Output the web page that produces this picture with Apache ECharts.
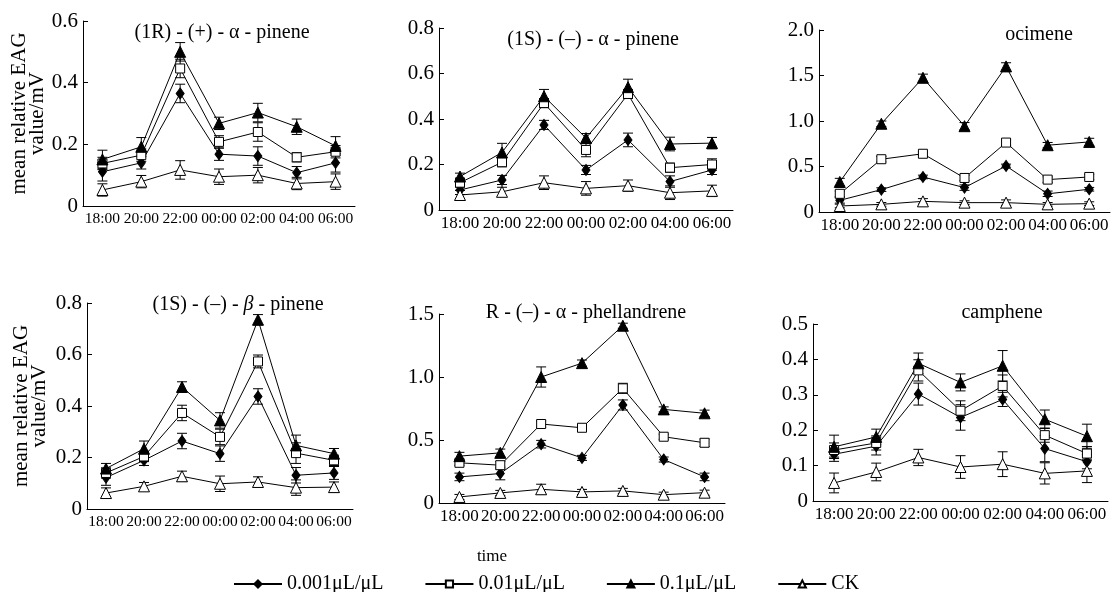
<!DOCTYPE html>
<html>
<head>
<meta charset="utf-8">
<script src="https://cdn.jsdelivr.net/npm/echarts@6/dist/echarts.min.js"></script>
<style>
  html, body { margin: 0; padding: 0; background: #fff; }
  #chart { width: 1112px; height: 592px; }
</style>
</head>
<body>
<div id="chart"></div>
<script>
const times = ['18:00', '20:00', '22:00', '00:00', '02:00', '04:00', '06:00'];
const doses = ['0.001μL/μL', '0.01μL/μL', '0.1μL/μL', 'CK'];

// means per dose (0.001, 0.01, 0.1, CK), then the error bar half-widths
const pinene1R = [
  [0.111, 0.140, 0.365, 0.168, 0.162, 0.108, 0.140],
  [0.138, 0.165, 0.446, 0.208, 0.240, 0.158, 0.176],
  [0.151, 0.192, 0.500, 0.268, 0.303, 0.257, 0.195],
  [0.052, 0.079, 0.117, 0.095, 0.100, 0.073, 0.079]
];
const pinene1R_err = [
  [0.03, 0.02, 0.03, 0.02, 0.03, 0.02, 0.03],
  [0.02, 0.02, 0.03, 0.02, 0.03, 0.015, 0.02],
  [0.03, 0.03, 0.03, 0.02, 0.03, 0.025, 0.03],
  [0.02, 0.02, 0.03, 0.025, 0.025, 0.02, 0.025]
];

const pinene1S = [
  [0.088, 0.132, 0.374, 0.176, 0.308, 0.125, 0.176],
  [0.120, 0.210, 0.470, 0.264, 0.510, 0.186, 0.200],
  [0.147, 0.253, 0.500, 0.316, 0.540, 0.290, 0.294],
  [0.066, 0.080, 0.120, 0.095, 0.107, 0.076, 0.084]
];
const pinene1S_err = [
  [0.02, 0.02, 0.02, 0.02, 0.03, 0.025, 0.02],
  [0.02, 0.02, 0.02, 0.03, 0.02, 0.02, 0.025],
  [0.015, 0.04, 0.03, 0.02, 0.035, 0.03, 0.025],
  [0.02, 0.02, 0.03, 0.03, 0.025, 0.03, 0.025]
];

const ocimene = [
  [0.128, 0.246, 0.385, 0.268, 0.506, 0.200, 0.250],
  [0.200, 0.580, 0.640, 0.374, 0.763, 0.356, 0.385],
  [0.330, 0.970, 1.475, 0.943, 1.600, 0.734, 0.770],
  [0.066, 0.084, 0.117, 0.103, 0.103, 0.084, 0.092]
];
const ocimene_err = [
  [0.03, 0.02, 0.02, 0.03, 0.02, 0.03, 0.02],
  [0.03, 0.03, 0.02, 0.03, 0.03, 0.03, 0.03],
  [0.04, 0.03, 0.04, 0.04, 0.04, 0.03, 0.04],
  [0.02, 0.02, 0.03, 0.02, 0.03, 0.02, 0.02]
];

const betaPinene = [
  [0.122, 0.189, 0.264, 0.215, 0.437, 0.131, 0.140],
  [0.140, 0.204, 0.373, 0.280, 0.573, 0.217, 0.189],
  [0.157, 0.234, 0.474, 0.344, 0.735, 0.247, 0.215],
  [0.062, 0.088, 0.127, 0.098, 0.105, 0.083, 0.085]
];
const betaPinene_err = [
  [0.03, 0.02, 0.03, 0.03, 0.03, 0.03, 0.025],
  [0.02, 0.02, 0.03, 0.03, 0.025, 0.04, 0.02],
  [0.02, 0.03, 0.02, 0.03, 0.02, 0.04, 0.02],
  [0.02, 0.015, 0.02, 0.03, 0.02, 0.03, 0.02]
];

const phellandrene = [
  [0.207, 0.234, 0.467, 0.358, 0.778, 0.345, 0.207],
  [0.319, 0.300, 0.627, 0.597, 0.910, 0.526, 0.478],
  [0.372, 0.398, 1.000, 1.110, 1.407, 0.743, 0.712],
  [0.048, 0.080, 0.109, 0.088, 0.096, 0.066, 0.082]
];
const phellandrene_err = [
  [0.03, 0.05, 0.03, 0.02, 0.04, 0.02, 0.03],
  [0.02, 0.03, 0.025, 0.02, 0.04, 0.02, 0.03],
  [0.03, 0.03, 0.08, 0.025, 0.02, 0.02, 0.025],
  [0.02, 0.02, 0.04, 0.02, 0.02, 0.02, 0.02]
];

const camphene = [
  [0.132, 0.155, 0.302, 0.236, 0.287, 0.148, 0.111],
  [0.144, 0.164, 0.369, 0.255, 0.325, 0.186, 0.134],
  [0.153, 0.181, 0.389, 0.335, 0.382, 0.231, 0.183],
  [0.051, 0.082, 0.123, 0.096, 0.104, 0.078, 0.085]
];
const camphene_err = [
  [0.02, 0.025, 0.031, 0.036, 0.02, 0.037, 0.02],
  [0.02, 0.02, 0.03, 0.028, 0.031, 0.02, 0.02],
  [0.033, 0.022, 0.029, 0.024, 0.043, 0.026, 0.034],
  [0.028, 0.025, 0.023, 0.032, 0.035, 0.03, 0.033]
];

const FONT = '"Liberation Serif", "Times New Roman", serif';

const panels = [
  { data: pinene1R, err: pinene1R_err, max: 0.6, step: 0.2, title: '(1R) - (+) - α - pinene',
    grid: { left: 83, top: 21, width: 272, height: 185 }, tx: 222, ty: 33, yName: true },
  { data: pinene1S, err: pinene1S_err, max: 0.8, step: 0.2, title: '(1S) - (–) - α - pinene',
    grid: { left: 439, top: 28, width: 294, height: 182 }, tx: 593, ty: 40 },
  { data: ocimene, err: ocimene_err, max: 2.0, step: 0.5, title: 'ocimene',
    grid: { left: 819, top: 30, width: 291, height: 182 }, tx: 1039, ty: 35 },
  { data: betaPinene, err: betaPinene_err, max: 0.8, step: 0.2, title: '(1S) - (–) - {b|β} - pinene',
    grid: { left: 87, top: 303, width: 266, height: 206 }, tx: 238, ty: 305, yName: true },
  { data: phellandrene, err: phellandrene_err, max: 1.5, step: 0.5, title: 'R - (–) - α - phellandrene',
    grid: { left: 439, top: 314, width: 286, height: 189 }, tx: 586, ty: 313 },
  { data: camphene, err: camphene_err, max: 0.5, step: 0.1, title: 'camphene',
    grid: { left: 813, top: 324, width: 295, height: 177 }, tx: 1002, ty: 313 }
];

const markers = [
  { symbol: 'diamond', symbolSize: [8, 11], fill: '#000' },
  { symbol: 'rect', symbolSize: 9, fill: '#fff' },
  { symbol: 'triangle', symbolSize: 11, fill: '#000' },
  { symbol: 'triangle', symbolSize: 11, fill: '#fff' }
];

function errorBar(params, api) {
  const x = api.value(0);
  const lo = api.coord([x, api.value(1)]);
  const hi = api.coord([x, api.value(2)]);
  const w = 5;
  const st = { stroke: '#000', lineWidth: 1 };
  return {
    type: 'group',
    children: [
      { type: 'line', shape: { x1: hi[0], y1: hi[1], x2: lo[0], y2: lo[1] }, style: st },
      { type: 'line', shape: { x1: hi[0] - w, y1: hi[1], x2: hi[0] + w, y2: hi[1] }, style: st },
      { type: 'line', shape: { x1: lo[0] - w, y1: lo[1], x2: lo[0] + w, y2: lo[1] }, style: st }
    ]
  };
}

const grids = [], xAxes = [], yAxes = [], series = [], graphics = [];

panels.forEach((p, i) => {
  grids.push(Object.assign({ containLabel: false }, p.grid));
  // narrow panels get a smaller label so the seven times fit
  const step = p.grid.width / times.length;
  xAxes.push({
    type: 'category', gridIndex: i, data: times, boundaryGap: true,
    axisLine: { lineStyle: { color: '#000', width: 1 } },
    axisTick: { inside: true, length: 5, lineStyle: { color: '#000' } },
    axisLabel: {
      interval: 0, color: '#000', fontFamily: FONT, margin: 5,
      fontSize: step < 40 ? 15.5 : 17
    }
  });
  yAxes.push({
    type: 'value', gridIndex: i, min: 0, max: p.max, interval: p.step,
    splitLine: { show: false },
    axisLine: { show: true, lineStyle: { color: '#000', width: 1 } },
    axisTick: { show: true, inside: true, length: 5, lineStyle: { color: '#000' } },
    axisLabel: {
      color: '#000', fontFamily: FONT, fontSize: 21, margin: 5,
      formatter: v => v === 0 ? '0' : v.toFixed(1)
    },
    name: p.yName ? 'mean relative EAG\nvalue/mV' : '',
    nameLocation: 'middle', nameRotate: 90, nameGap: p.yName ? p.grid.left - 48 : 0,
    nameTextStyle: { color: '#000', fontFamily: FONT, fontSize: 21, lineHeight: 18 }
  });

  p.data.forEach((vals, k) => {
    const m = markers[k];
    series.push({
      type: 'custom', name: 'err' + i + '_' + k, xAxisIndex: i, yAxisIndex: i,
      renderItem: errorBar, z: 2, silent: true,
      encode: { x: 0, y: [1, 2] },
      data: vals.map((v, j) => [j, v - p.err[k][j], v + p.err[k][j]])
    });
    series.push({
      type: 'line', name: doses[k], xAxisIndex: i, yAxisIndex: i, z: 3,
      data: vals, symbol: m.symbol, symbolSize: m.symbolSize, showSymbol: true,
      lineStyle: { color: '#000', width: 1 },
      itemStyle: { color: m.fill, borderColor: '#000', borderWidth: 1 }
    });
  });

  // white label boxes sit under the lines, as in the source figure
  graphics.push({
    type: 'text', x: p.tx, y: p.ty, z: 1,
    style: {
      text: p.title, fill: '#000', font: '20px ' + FONT,
      align: 'center', verticalAlign: 'middle',
      backgroundColor: '#fff', padding: [2, 8],
      rich: { b: { fontStyle: 'italic', fontSize: 20, fontFamily: FONT } }
    }
  });
});

graphics.push({
  type: 'text', x: 492, y: 557, z: 1,
  style: { text: 'time', fill: '#000', font: '17px ' + FONT, align: 'center', verticalAlign: 'middle' }
});

const chart = echarts.init(document.getElementById('chart'));
chart.setOption({
  backgroundColor: '#fff',
  animation: false,
  grid: grids,
  xAxis: xAxes,
  yAxis: yAxes,
  series: series,
  graphic: graphics,
  legend: {
    data: doses, left: 228, top: 569, itemWidth: 48, itemHeight: 9, itemGap: 41,
    textStyle: { color: '#000', fontFamily: FONT, fontSize: 20 },
    selectedMode: false
  }
});
window.addEventListener('resize', () => chart.resize());
</script>
</body>
</html>
